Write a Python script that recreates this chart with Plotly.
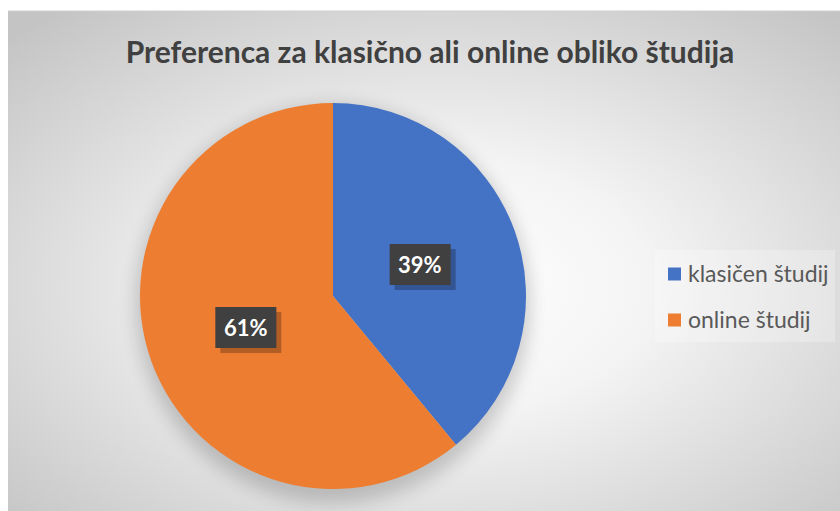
import base64
import math
import plotly.graph_objects as go

# ---- data ----
labels = ["klasičen študij", "online študij"]
values = [39, 61]
colors = ["#4472C4", "#ED7D31"]
title_text = "Preferenca za klasično ali online obliko študija"

W, H = 840, 511
FONT = "Lato"

# pie geometry (pixels)
PCX, PCY, PR = 333, 296, 193
dom_x = [(PCX - PR) / W, (PCX + PR) / W]
dom_y = [1 - (PCY + PR) / H, 1 - (PCY - PR) / H]

fig = go.Figure()
fig.add_trace(go.Pie(
    labels=labels, values=values, sort=False, direction="clockwise", rotation=0,
    marker=dict(colors=colors, line=dict(width=0)),
    textinfo="none", hoverinfo="label+percent", showlegend=False,
    domain=dict(x=dom_x, y=dom_y),
))

# background gradient
svg = f'''<svg xmlns="http://www.w3.org/2000/svg" width="832" height="500" viewBox="0 0 832 500">
<defs>
<radialGradient id="g" cx="0.52" cy="0.55" r="0.72">
<stop offset="0" stop-color="#ffffff"/><stop offset="0.35" stop-color="#f4f4f4"/><stop offset="1" stop-color="#c4c4c4"/></radialGradient>
<filter id="b" x="-50%" y="-50%" width="200%" height="200%"><feGaussianBlur stdDeviation="9"/></filter>
</defs>
<rect width="832" height="500" fill="url(#g)"/>
<ellipse cx="{PCX-8}" cy="{PCY-11+8}" rx="{PR+4}" ry="{PR+6}" fill="#000" opacity="0.18" filter="url(#b)"/>
<rect x="{655-8}" y="{250-11}" width="180" height="92" fill="#ffffff" opacity="0.25"/>
</svg>'''
src = "data:image/svg+xml;base64," + base64.b64encode(svg.encode()).decode()

shapes = [
    dict(type="line", xref="paper", yref="paper", x0=8 / W, x1=1, y0=1 - 11 / H, y1=1 - 11 / H,
         line=dict(color="#cfcfcf", width=1)),
]
annotations = []

# data labels computed from values
BW, BH = 61, 41
total = sum(values)
cum = 0
for v in values:
    mid = (cum + v / 2) / total * 2 * math.pi
    cum += v
    px = PCX + 0.48 * PR * math.sin(mid)
    py = PCY - 0.48 * PR * math.cos(mid)
    txt = f"<b>{round(v / total * 100)}%</b>"
    for off, col in ((5, "rgba(0,0,0,0.25)"), (0, "#404040")):
        shapes.append(dict(type="rect", xref="paper", yref="paper",
                           x0=(px - BW / 2 + off) / W, x1=(px + BW / 2 + off) / W,
                           y0=1 - (py + BH / 2 + off) / H, y1=1 - (py - BH / 2 + off) / H,
                           fillcolor=col, line=dict(width=0), layer="above"))
    annotations.append(dict(x=px / W, y=1 - py / H, xref="paper", yref="paper",
                            xanchor="center", yanchor="middle",
                            text=txt, showarrow=False,
                            font=dict(family=FONT, size=22, color="#ffffff")))

# manual legend
LX, LY0, LGAP = 668, 274, 46
for i, (lab, col) in enumerate(zip(labels, colors)):
    yc = LY0 + i * LGAP
    shapes.append(dict(type="rect", xref="paper", yref="paper",
                       x0=LX / W, x1=(LX + 13) / W, y0=1 - (yc + 6.5) / H, y1=1 - (yc - 6.5) / H,
                       fillcolor=col, line=dict(width=0)))
    annotations.append(dict(x=(LX + 18) / W, y=1 - (yc - 1) / H, xref="paper", yref="paper",
                            xanchor="left", yanchor="middle", text=lab, showarrow=False,
                            font=dict(family=FONT, size=23, color="#595959")))

fig.update_layout(
    width=W, height=H, margin=dict(l=0, r=0, t=0, b=0),
    paper_bgcolor="#ffffff", plot_bgcolor="#ffffff",
    title=dict(text=f"<b>{title_text}</b>", x=430 / W, xanchor="center", y=1 - 52 / H, yanchor="middle",
               font=dict(family=FONT, size=30, color="#404040")),
    images=[dict(source=src, xref="paper", yref="paper", x=8 / W, y=1 - 11 / H,
                 sizex=832 / W, sizey=500 / H, xanchor="left", yanchor="top",
                 sizing="stretch", layer="below")],
    shapes=shapes, annotations=annotations,
)

fig.write_html("out.html", config={"displayModeBar": False},
               post_script="document.body.style.margin='0';document.body.style.overflow='hidden';")
